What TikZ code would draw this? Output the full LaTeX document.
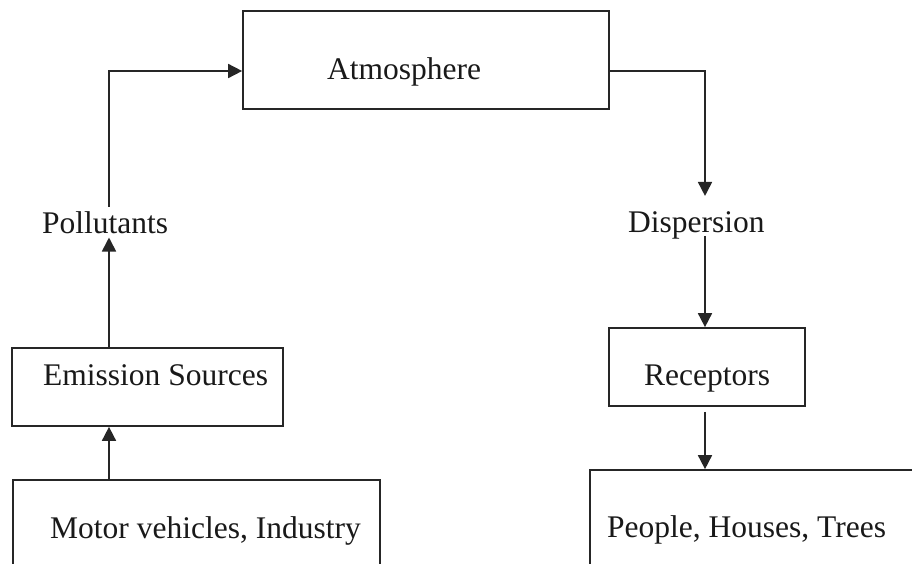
\documentclass[tikz,border=0pt]{standalone}
\usepackage{fontspec}
\setmainfont{Liberation Serif}
\usetikzlibrary{arrows.meta}
\begin{document}
\begin{tikzpicture}[x=1pt,y=-1pt,
  box/.style={draw=black!85,line width=1.7pt,rectangle,inner sep=0pt},
  lbl/.style={inner sep=0pt,anchor=base west,text=black!90,font=\fontsize{31.5}{36}\selectfont},
  arr/.style={draw=black!85,line width=1.7pt,-{Triangle[length=14pt,width=14pt]}}]
\useasboundingbox (0,0) rectangle (912,563);
\clip (0,0) rectangle (912,563);
\fill[white] (0,0) rectangle (912,563);
% boxes
\node[box,minimum width=366pt,minimum height=98pt] (atm) at (426,60) {};
\node[box,minimum width=271pt,minimum height=78pt] (emis) at (147.5,387) {};
\node[box,minimum width=367pt,minimum height=120pt] (motor) at (196.5,540) {};
\node[box,minimum width=196pt,minimum height=78pt] (rec) at (707,367) {};
\node[box,minimum width=340pt,minimum height=130pt] (people) at (760,535) {};
% texts
\node[lbl] (atmt) at (327,79) {Atmosphere};
\node[lbl] (emist) at (43,385) {Emission Sources};
\node[lbl] (motort) at (50,538) {Motor vehicles, Industry};
\node[lbl] (rect) at (644,385) {Receptors};
\node[lbl] (peoplet) at (607,537) {People, Houses, Trees};
\node[lbl] (pol) at (42,233) {Pollutants};
\node[lbl] (disp) at (628,232) {Dispersion};
% guide coordinates
\coordinate (lx) at (109,0);
\coordinate (rx) at (705,0);
% connectors
\draw[arr] (motor.north -| lx) -- (emis.south -| lx);
\draw[arr,shorten >=4pt] (emis.north -| lx) -- (pol.south -| lx);
\draw[arr,shorten <=4pt] (pol.north -| lx) |- ([yshift=-11pt]atm.west);
\draw[arr,shorten >=15pt] ([yshift=-11pt]atm.east) -| (disp.north -| rx);
\draw[arr,shorten <=-3pt] (disp.south -| rx) -- (rec.north -| rx);
\draw[arr,shorten <=5pt] (rec.south -| rx) -- (people.north -| rx);
\end{tikzpicture}
\end{document}
